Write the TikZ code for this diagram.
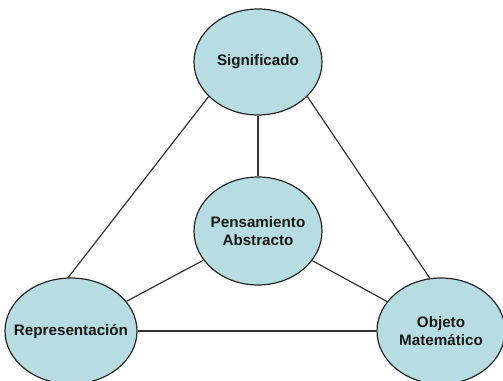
\documentclass[tikz,border=0pt]{standalone}
\usepackage{fontspec}
\setmainfont{Liberation Sans}
\usepackage{tikz}
\usetikzlibrary{shapes.geometric}
\definecolor{bubblefill}{RGB}{183,221,226}
\colorlet{bubbleline}{black!85}

\begin{document}
\begin{tikzpicture}[x=1pt, y=-1pt,
    concept/.style = {ellipse, draw=bubbleline, line width=1.2pt, fill=bubblefill, minimum width=128pt, minimum height=106pt, inner sep=0pt},
    tag/.style = {font=\fontsize{15.2}{18}\selectfont\bfseries, text=black!90, align=center},
    link/.style = {draw=black!80, line width=1.2pt}]
        \useasboundingbox (0,0) rectangle (503,380);
        \node[concept, label={[tag]center:Significado}] (sig) at (258,62) {};
        \node[concept, minimum height=108pt, label={[tag]center:Pensamiento\\Abstracto}] (pen) at (258,231) {};
        \node[concept, minimum width=132pt, label={[tag]center:Representación}] (rep) at (71,331) {};
        \node[concept, label={[tag]center:Objeto\\Matemático}] (obj) at (441,331) {};
        \path[link] (sig.215) edge (rep.93); % lado izquierdo
        \path[link] (sig.325) edge (obj.102); % lado derecho
        \path[link] (rep) edge (obj);
        \path[link] (sig) edge (pen);
        \path[link] (pen) edge (rep);
        \path[link] (pen) edge (obj);
\end{tikzpicture}
\end{document}
